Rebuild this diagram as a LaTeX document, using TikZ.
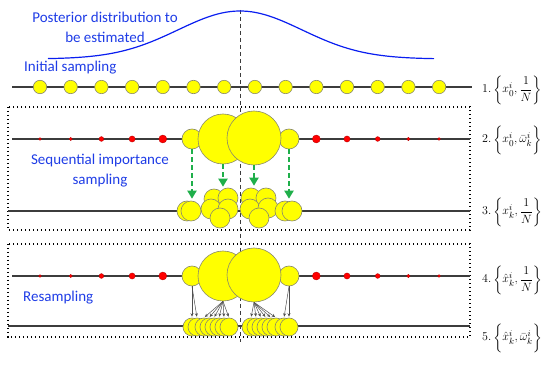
\documentclass[tikz,border=0pt]{standalone}
\usepackage{amsmath}
\usepackage{fontspec}
\setmainfont{Carlito}
\usetikzlibrary{arrows.meta,positioning}
\definecolor{txtblue}{HTML}{1E3CE6}
\definecolor{curveblue}{HTML}{0A1EF0}
\definecolor{cfill}{HTML}{FFFF00}
\definecolor{cedge}{HTML}{8A8A6A}
\definecolor{dotfill}{HTML}{FF0000}
\definecolor{dotedge}{HTML}{B00000}
\definecolor{lnc}{HTML}{3C3C3C}
\definecolor{garrow}{HTML}{1FAF4A}
\definecolor{parrow}{HTML}{505050}

\begin{document}
\begin{tikzpicture}[
  x=1pt, y=-1pt, font=\fontsize{15}{20}\selectfont, >=Latex,
  samp/.style={circle, draw=cedge, fill=cfill, line width=0.6pt, inner sep=0pt, minimum size=#1},
  samp/.default=13.4pt,
  wdot/.style={circle, draw=dotedge, fill=dotfill, line width=0.3pt, inner sep=0pt, minimum size=#1},
  rowline/.style={draw=lnc, line width=1.5pt},
  frame/.style={draw=black, line width=1.4pt, dash pattern=on 1.4pt off 2.6pt},
  centre/.style={draw=lnc, line width=1pt, dash pattern=on 4pt off 3pt},
  move/.style={draw=garrow, line width=2pt, dash pattern=on 5pt off 3pt, shorten >=2pt, -{Triangle[width=9pt,length=8pt]}},
  pick/.style={draw=parrow, line width=0.5pt, shorten >=1pt, -{Stealth[length=3.5pt,width=3pt]}},
  caption/.style={text=txtblue, align=center, inner sep=0pt},
  lab/.style={anchor=west, inner sep=0pt, font=\fontsize{13}{15}\selectfont},
]
\useasboundingbox (0,0) rectangle (550,366);
% dotted frames round the two stages
\draw[frame] (8,107) rectangle (470,230);
\draw[frame] (8,244) rectangle (470,337);
% vertical centre line
\coordinate (ctop) at (240,10);
\coordinate (cbot) at (240,342);
\draw[centre] (ctop) -- (cbot);
% posterior curve
\draw[curveblue, line width=1.2pt] plot[domain=48:434, samples=90]
  (\x, {59-48*exp(-((\x-240)/62)*((\x-240)/62)/2)});
\node[caption] (post) at (105,27) {Posterior distribution to\\be estimated};
% row 1: initial sampling
\node[caption, anchor=west] (init) at (24,68) {Initial sampling};
\coordinate (r1w) at (12,87);
\coordinate (r1e) at (472,87);
\draw[rowline] (r1w) -- (r1e);
\foreach \i in {0,...,13}
  \node[samp] (s1-\i) at ({40+30.7*\i},87) {};
% rows 2 and 4: weighted samples
\foreach \r/\yy in {2/139,4/276}{
  \coordinate (r\r w) at (12,\yy);
  \coordinate (r\r e) at (470,\yy);
  \draw[rowline] (r\r w) -- (r\r e);
  \foreach \i/\d in {0/2.8,1/3.4,2/4.8,3/6.2,4/8,9/8,10/6.2,11/4.8,12/3.4,13/2.8}
    \node[wdot=\d pt] (w\r-\i) at ({40+30.7*\i},\yy) {};
  \node[samp=20pt] (m\r-l) at (192,\yy) {};
  \node[samp=20pt] (m\r-r) at (289,\yy) {};
  \node[samp=50pt] (b\r-l) at (223,\yy) {};
  \node[samp=54pt] (b\r-r) at (254,\yy-1) {};
}
% row 3: propagated samples
\coordinate (r3w) at (8,211);
\coordinate (r3e) at (470,211);
\draw[rowline] (r3w) -- (r3e);
\foreach \x/\yy [count=\n] in {187/211,191/211,214/199,228/198,211/209,228/209,220/218,251/198,266/198,250/209,268/208,259/218,285/211,292/211}
  \node[samp=20pt] (c3-\n) at (\x,\yy) {};
\node[caption] (sis) at (100,171) {Sequential importance\\sampling};
\draw[move] (m2-l.south) -- (m2-l.south |- c3-1.north);
\draw[move] (b2-l.south) -- (b2-l.south |- c3-3.north);
\draw[move] (b2-r.south) -- (b2-r.south |- c3-8.north);
\draw[move] (m2-r.south) -- (m2-r.south |- c3-13.north);
% row 5: resampled particles
\node[caption, anchor=west] (resamp) at (23,298) {Resampling};
\coordinate (r5w) at (8,326);
\coordinate (r5e) at (470,326);
\draw[rowline] (r5w) -- (r5e);
\foreach \x [count=\n] in {192,197,204,209,214,219,224,229,251,256,261,266,271,276,284,289}
  \node[samp=18pt] (c5-\n) at (\x,327) {};
\foreach \n in {1,2} \draw[pick] (m4-l.south) -- (c5-\n.north);
\foreach \n in {3,...,8} \draw[pick] (b4-l.south) -- (c5-\n.north);
\foreach \n in {9,...,14} \draw[pick] (b4-r.south) -- (c5-\n.north);
\foreach \n in {15,16} \draw[pick] (m4-r.south) -- (c5-\n.north);
% set notation on the right
\node[lab] (l1) at (482,90) {$1.\left\{x_0^i,\dfrac{1}{N}\right\}$};
\node[lab] (l2) at (482,140) {$2.\left\{x_0^i,\bar{\omega}_k^i\vphantom{\dfrac{1}{N}}\right\}$};
\node[lab] (l3) at (482,212) {$3.\left\{x_k^i,\dfrac{1}{N}\right\}$};
\node[lab] (l4) at (482,280) {$4.\left\{\hat{x}_k^i,\dfrac{1}{N}\right\}$};
\node[lab] (l5) at (482,338) {$5.\left\{\hat{x}_k^i,\bar{\omega}_k^i\vphantom{\dfrac{1}{N}}\right\}$};
\end{tikzpicture}
\end{document}
